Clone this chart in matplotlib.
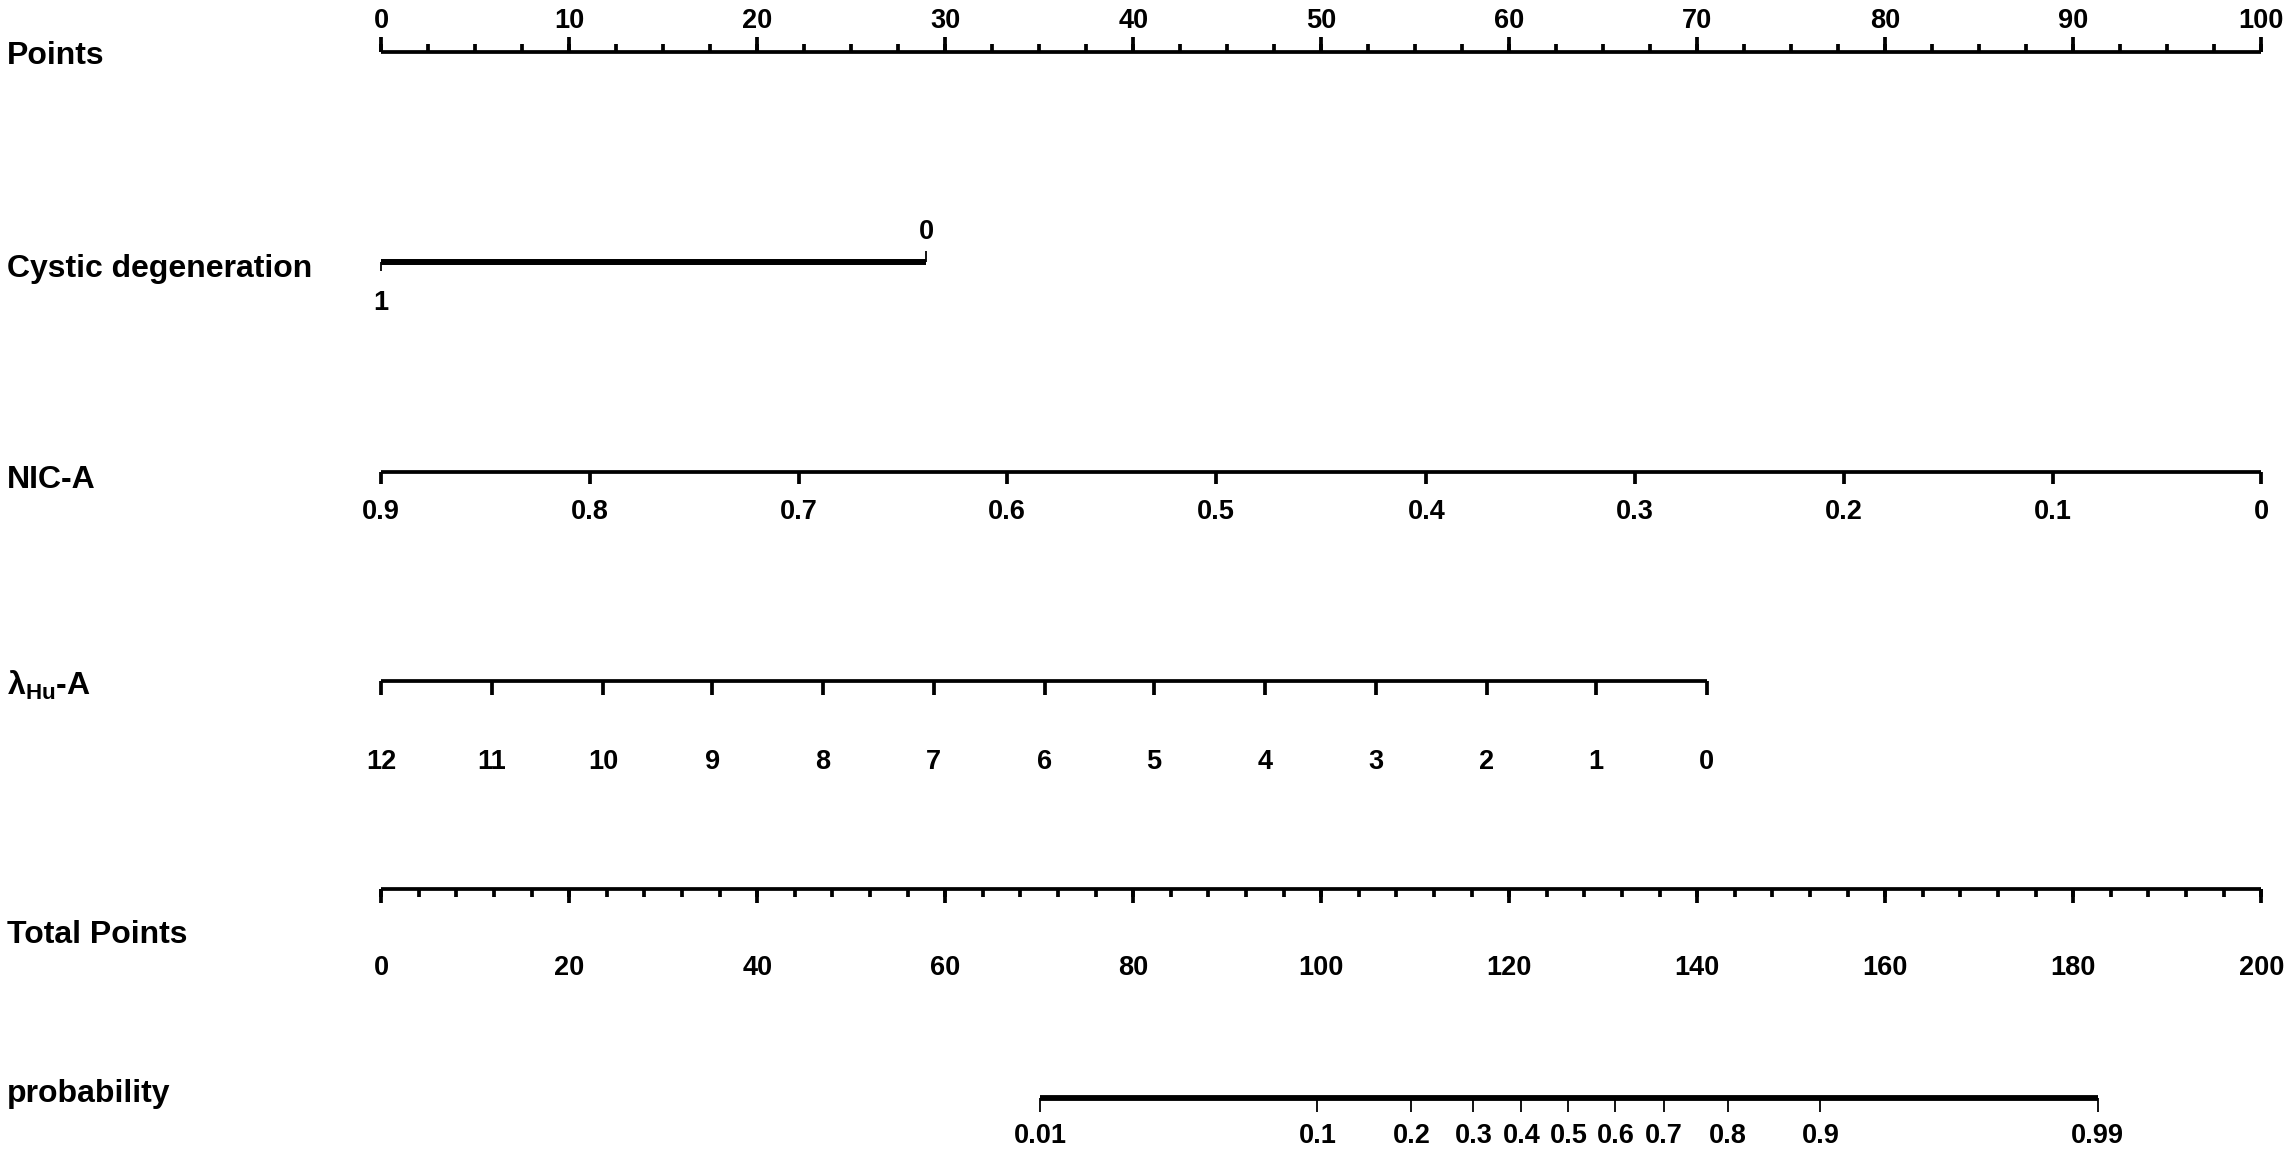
import numpy as np
import matplotlib
matplotlib.use("Agg")
import matplotlib.pyplot as plt

# ---- data ----
points_major = [0, 10, 20, 30, 40, 50, 60, 70, 80, 90, 100]
points_minor = np.arange(0, 100.1, 2.5)

cystic_labels = ["1", "0"]
cystic_points = [0, 29]

nic_labels = ["0.9", "0.8", "0.7", "0.6", "0.5", "0.4", "0.3", "0.2", "0.1", "0"]
nic_points = [0, 11.1, 22.2, 33.3, 44.4, 55.6, 66.7, 77.8, 88.9, 100]

lam_labels = ["12", "11", "10", "9", "8", "7", "6", "5", "4", "3", "2", "1", "0"]
lam_points = [0, 5.9, 11.8, 17.6, 23.5, 29.4, 35.3, 41.1, 47.0, 52.9, 58.8, 64.6, 70.5]

total_major = [0, 20, 40, 60, 80, 100, 120, 140, 160, 180, 200]
total_minor = np.arange(0, 200.1, 4)

prob_labels = ["0.01", "0.1", "0.2", "0.3", "0.4", "0.5", "0.6", "0.7", "0.8", "0.9", "0.99"]
prob_total = [70.1, 99.6, 109.6, 116.2, 121.3, 126.3, 131.3, 136.5, 143.3, 153.1, 182.6]

row_names = ["Points", "Cystic degeneration", "NIC-A", r"$\mathbf{\lambda}_{\mathbf{Hu}}$-A",
             "Total Points", "probability"]

plt.rcParams['font.family'] = ['Liberation Sans', 'DejaVu Sans']
plt.rcParams['font.weight'] = 'bold'
plt.rcParams['mathtext.fontset'] = 'custom'
plt.rcParams['mathtext.bf'] = 'Liberation Sans:bold'
plt.rcParams['mathtext.rm'] = 'Liberation Sans:bold'

W, H = 2290, 1153
fig = plt.figure(figsize=(W / 100, H / 100), dpi=100)
ax = fig.add_axes([0, 0, 1, 1])
x0_px, px_per_pt = 381.2, 18.8
ax.set_xlim(-x0_px / px_per_pt, (W - x0_px) / px_per_pt)
ax.set_ylim(H, 0)
ax.axis("off")

# row positions in pixel units
y_pts, y_cys, y_nic, y_lam, y_tot, y_prob = 52, 262, 472, 681, 889, 1098
label_y = [56, 269, 480, 685, 935, 1094]
lab_fs, tick_fs = 23, 19.5
lw = 2.7
k = "black"

for name, yy in zip(row_names, label_y):
    ax.text(-19.9, yy, name, fontsize=lab_fs, fontweight="bold", va="center", ha="left")

# Points
ax.hlines(y_pts, 0, 100, color=k, lw=lw)
ax.vlines(points_minor, y_pts - 8, y_pts, color=k, lw=lw)
ax.vlines(points_major, y_pts - 15, y_pts, color=k, lw=lw)
for v in points_major:
    ax.text(v, 21, str(v), fontsize=tick_fs, ha="center", va="center")

# Cystic degeneration
ax.hlines(y_cys, cystic_points[0], cystic_points[1], color=k, lw=4.3)
ax.vlines(cystic_points[0], y_cys, y_cys + 9, color=k, lw=1.3)
ax.vlines(cystic_points[1], y_cys - 11, y_cys, color=k, lw=1.3)
ax.text(cystic_points[0], 303, cystic_labels[0], fontsize=tick_fs, ha="center", va="center")
ax.text(cystic_points[1], 232, cystic_labels[1], fontsize=tick_fs, ha="center", va="center")

# NIC-A
ax.hlines(y_nic, min(nic_points), max(nic_points), color=k, lw=lw)
ax.vlines(nic_points, y_nic, y_nic + 12, color=k, lw=lw)
for p, s in zip(nic_points, nic_labels):
    ax.text(p, 512, s, fontsize=tick_fs, ha="center", va="center")

# lambda Hu-A
ax.hlines(y_lam, min(lam_points), max(lam_points), color=k, lw=lw)
ax.vlines(lam_points, y_lam, y_lam + 14, color=k, lw=lw)
for p, s in zip(lam_points, lam_labels):
    ax.text(p, 762, s, fontsize=tick_fs, ha="center", va="center")

# Total Points (same width as Points, 0-200)
tot_scale = 0.5
ax.hlines(y_tot, 0, 200 * tot_scale, color=k, lw=lw)
ax.vlines(total_minor * tot_scale, y_tot, y_tot + 8, color=k, lw=lw)
ax.vlines(np.array(total_major) * tot_scale, y_tot, y_tot + 14, color=k, lw=lw)
for v in total_major:
    ax.text(v * tot_scale, 968, str(v), fontsize=tick_fs, ha="center", va="center")

# probability
pt = np.array(prob_total) * tot_scale
ax.hlines(y_prob, pt.min(), pt.max(), color=k, lw=4.2)
ax.vlines(pt, y_prob, y_prob + 14, color=k, lw=1.3)
for p, s in zip(pt, prob_labels):
    ax.text(p, 1136, s, fontsize=tick_fs, ha="center", va="center")

fig.savefig("out.png", dpi=100)
